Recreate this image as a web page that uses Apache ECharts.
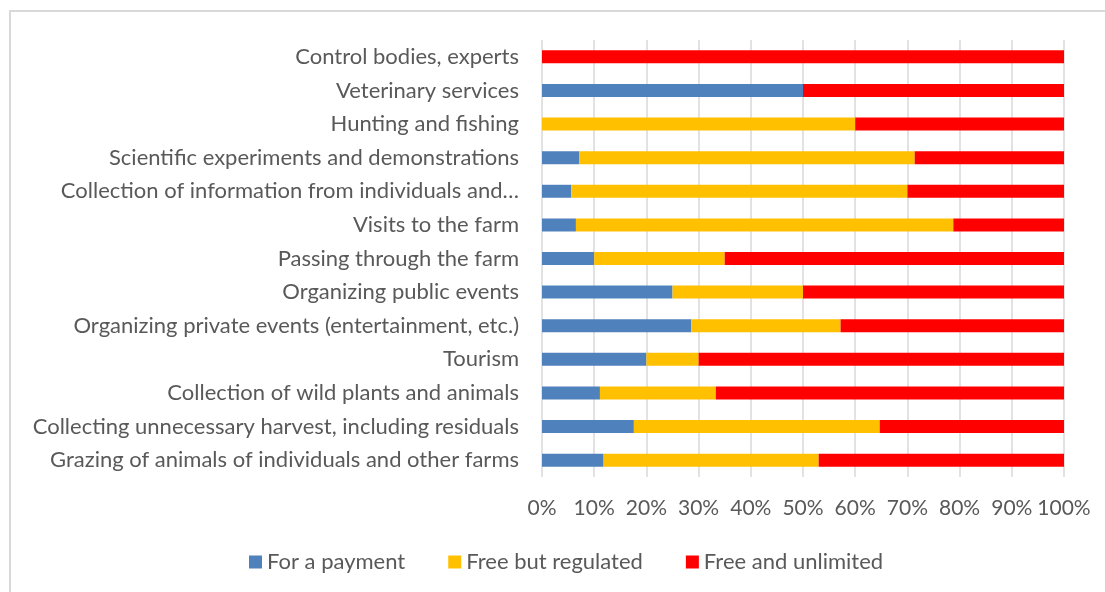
<!DOCTYPE html>
<html>
<head>
<meta charset="utf-8">
<script src="https://cdn.jsdelivr.net/npm/echarts@6/dist/echarts.min.js"></script>
<style>
  html, body { margin: 0; padding: 0; background: #fff; }
  #chart { width: 1105px; height: 592px; }
</style>
</head>
<body>
<div id="chart"></div>
<script>
// Categories listed bottom-to-top (category axis draws the first item at the bottom)
const categories = [
  'Grazing of animals of individuals and other farms',
  'Collecting unnecessary harvest, including residuals',
  'Collection of wild plants and animals',
  'Tourism',
  'Organizing private events (entertainment, etc.)',
  'Organizing public events',
  'Passing through the farm',
  'Visits to the farm',
  'Collection of information from individuals and\u2026',
  'Scientific experiments and demonstrations',
  'Hunting and fishing',
  'Veterinary services',
  'Control bodies, experts'
];

// Shares of respondents, percent
const forPayment      = [11.8, 17.6, 11.1, 20.0, 28.6, 25.0, 10.0, 6.5, 5.6, 7.1, 0.0, 50.0, 0.0];
const freeRegulated   = [41.2, 47.1, 22.2, 10.0, 28.6, 25.0, 25.0, 72.3, 64.4, 64.3, 60.0, 0.0, 0.0];
const freeUnlimited   = [47.0, 35.3, 66.7, 70.0, 42.8, 50.0, 65.0, 21.2, 30.0, 28.6, 40.0, 50.0, 100.0];

const seriesNames = ['For a payment', 'Free but regulated', 'Free and unlimited'];
const seriesColors = ['#4f81bd', '#ffc000', '#ff0000'];

const xTicks = [0, 10, 20, 30, 40, 50, 60, 70, 80, 90, 100];

const FONT = 'Lato, "Open Sans", sans-serif';
const TEXT = '#595959';
const FS = 22;

const chart = echarts.init(document.getElementById('chart'), null, { renderer: 'canvas' });

const values = [forPayment, freeRegulated, freeUnlimited];

chart.setOption({
  animation: false,
  backgroundColor: '#ffffff',
  textStyle: { fontFamily: FONT },
  graphic: [{
    type: 'rect',
    shape: { x: 10, y: 11, width: 1200, height: 700 },
    style: { fill: 'none', stroke: '#d9d9d9', lineWidth: 2 },
    silent: true,
    z: -10
  }],
  grid: { left: 542, right: 41, top: 40, bottom: 115, containLabel: false },
  legend: {
    top: 546,
    left: 244,
    itemWidth: 13,
    itemHeight: 13,
    itemGap: 43,
    icon: 'rect',
    textStyle: { fontSize: FS, color: TEXT, fontFamily: FONT, padding: [0, 0, 0, 0] },
    data: seriesNames
  },
  xAxis: {
    type: 'value',
    min: xTicks[0],
    max: xTicks[xTicks.length - 1],
    interval: 10,
    axisLine: { show: false },
    axisTick: { show: false },
    splitLine: { show: true, lineStyle: { color: '#d9d9d9', width: 1.5 } },
    axisLabel: {
      formatter: v => v + '%',
      fontSize: 21,
      color: TEXT,
      fontFamily: FONT,
      margin: 21
    }
  },
  yAxis: {
    type: 'category',
    data: categories,
    axisLine: { show: false },
    axisTick: { show: false },
    axisLabel: { fontSize: FS, color: TEXT, fontFamily: FONT, margin: 23 }
  },
  series: seriesNames.map((name, i) => ({
    name: name,
    type: 'bar',
    stack: 'total',
    barWidth: 13,
    itemStyle: { color: seriesColors[i] },
    data: values[i]
  }))
});
</script>
</body>
</html>
